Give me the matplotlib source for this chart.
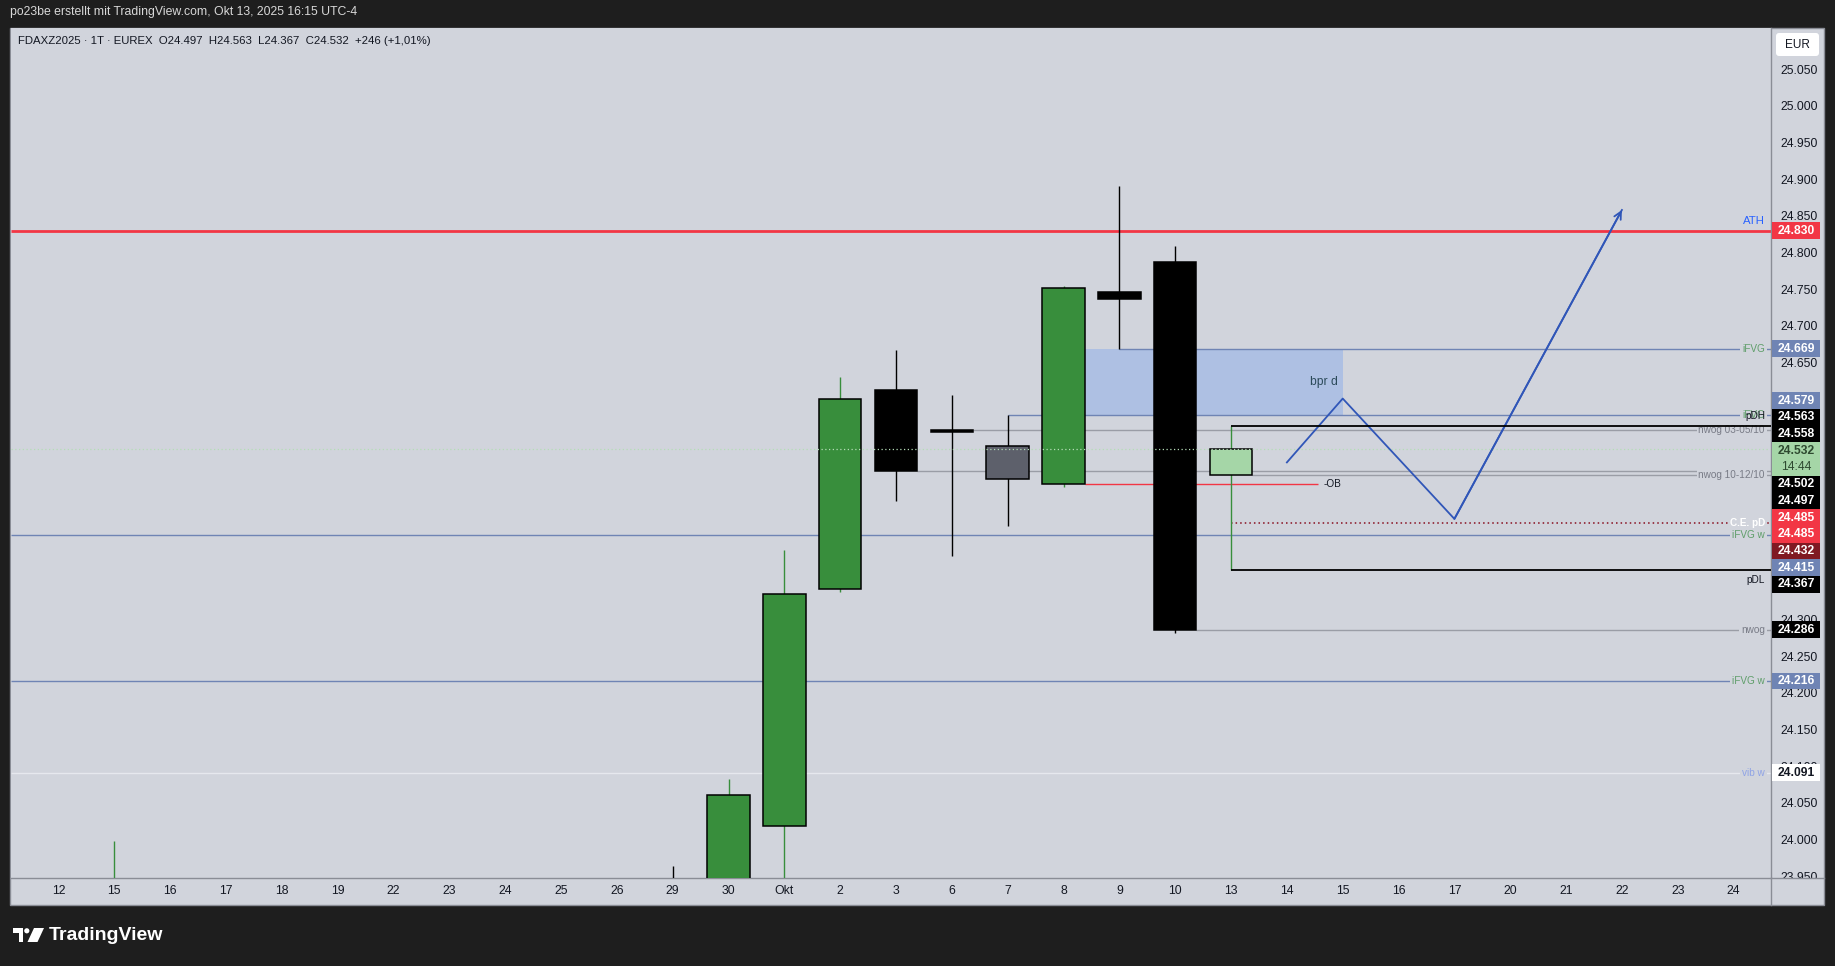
import numpy as np
import matplotlib
matplotlib.use("Agg")
import matplotlib.pyplot as plt
import matplotlib.transforms as mtransforms
from matplotlib.patches import Rectangle, FancyBboxPatch, Polygon, Circle
from matplotlib.lines import Line2D

plt.rcParams["font.family"] = ["Liberation Sans", "DejaVu Sans"]

W, H = 1835, 966
BG = "#d1d4dc"
DARK = "#1e1e1e"
FRAME = "#8a8d96"
BODY_W = 0.76
HALF = BODY_W / 2

# x axis: one slot per trading day, Sep 12 .. Oct 24 2025
day_labels = ["12", "15", "16", "17", "18", "19", "22", "23", "24", "25", "26", "29", "30",
              "Okt", "2", "3", "6", "7", "8", "9", "10", "13", "14", "15", "16", "17",
              "20", "21", "22", "23", "24"]

# daily candles that reach into the visible price range (position = slot on x axis)
candle_pos = [1, 11, 12, 13, 14, 15, 16, 17, 18, 19, 20, 21]
opens  = [23880, 23910, 23800, 24018, 24341, 24613, 24558, 24491, 24484, 24746, 24787, 24497]
highs  = [23998, 23964, 24082, 24395, 24630, 24667, 24606, 24578, 24754, 24891, 24809, 24563]
lows   = [23840, 23760, 23770, 23930, 24338, 24462, 24387, 24427, 24481, 24669, 24282, 24367]
closes = [23930, 23790, 24061, 24334, 24600, 24502, 24555, 24536, 24751, 24737, 24286, 24532]
kinds  = ["up", "down", "up", "up", "up", "down", "down", "gray", "up", "down", "down", "live"]
countdown = "14:44"

# drawn horizontal levels
level_price = [24830, 24669, 24579, 24563, 24558, 24502, 24497, 24485, 24432, 24415, 24367, 24286, 24216, 24091]
level_start = [None, 19, 17, 21, 16 + HALF, 15 + HALF, 21 + HALF, 18 + HALF, 21, None, 21, 20 + HALF, None, None]
level_text  = ["ATH", "iFVG", "iFVG", "pDH", "nwog 03-05/10", "nwog", "nwog 10-12/10", "-OB",
               "C.E. pD", "iFVG w", "pDL", "nwog", "iFVG w", "vib w"]
level_kind  = ["ath", "fvg", "fvg", "black", "gap", "gap", "gap", "ob", "ce", "fvg", "black", "gap", "fvg", "vib"]
ob_end = 22.56

# price tags on the right scale
tag_price = [24830, 24669, 24579, 24563, 24558, 24532, 24502, 24497, 24485, 24485, 24432, 24415,
             24367, 24286, 24216, 24091]
tag_kind  = ["red", "blue", "blue", "black", "black", "live", "black", "black", "red", "red", "dark",
             "blue", "black", "black", "blue", "white"]

# balanced price range box
zone_x = (18 + HALF, 23)
zone_lo, zone_hi = 24579, 24669
zone_label = "bpr d"

# projected path
proj_x = [22, 23, 25, 28]
proj_y = [24514, 24601, 24437, 24858]

candle_style = {
    "up":   ("#388e3c", "#388e3c"),
    "down": ("#000000", "#000000"),
    "gray": ("#5d606b", "#000000"),
    "live": ("#a5d6a7", "#388e3c"),
}
level_style = {  # line colour, lw, ls, text colour, weight, zorder
    "ath":   ("#f23645", 2.0, "-", "#2962ff", "normal", 2),
    "fvg":   ("#6f84b4", 1.0, "-", "#5f9e6a", "normal", 2),
    "black": ("#000000", 1.3, "-", "#131722", "normal", 7.5),
    "gap":   ("#9a9da6", 1.0, "-", "#787b86", "normal", 2),
    "ob":    ("#f23645", 1.0, "-", "#131722", "normal", 2),
    "ce":    ("#880e1f", 1.1, (0, (1, 2)), "#ffffff", "bold", 2),
    "vib":   ("#e6e8ee", 1.0, "-", "#8fa3e6", "normal", 2),
}
tag_style = {
    "red":   ("#f23645", "#ffffff"),
    "blue":  ("#6f84b4", "#ffffff"),
    "black": ("#000000", "#ffffff"),
    "live":  ("#a5d6a7", "#2e4a30"),
    "dark":  ("#801922", "#ffffff"),
    "white": ("#ffffff", "#131722"),
}

ident = mtransforms.IdentityTransform()


def fmt(v):
    return f"{v / 1000:.3f}"


fig = plt.figure(figsize=(W / 100, H / 100), dpi=100, facecolor=DARK)

# chart panel
fig.add_artist(Rectangle((10, H - 905), 1814, 877, facecolor=BG, edgecolor=FRAME,
                         lw=1, transform=ident, zorder=-5))

ax = fig.add_axes([11 / W, 1 - 878 / H, 1760 / W, 850 / H])
ax.set_facecolor(BG)
ax.set_xlim(-0.85, 30.67)
ax.set_ylim(23947.6, 25106)
for s in ["left", "top"]:
    ax.spines[s].set_visible(False)
for s in ["bottom", "right"]:
    ax.spines[s].set_color(FRAME)
    ax.spines[s].set_linewidth(1)

ax.set_xticks(range(len(day_labels)))
ax.set_xticklabels(day_labels)
ax.tick_params(axis="x", length=0, pad=5, labelsize=8.8, labelcolor="#131722")
ax.yaxis.tick_right()
yt = np.arange(23950, 25051, 50)
ax.set_yticks(yt)
ax.set_yticklabels([fmt(v) for v in yt])
ax.tick_params(axis="y", length=0, pad=6.5, labelsize=8.8, labelcolor="#131722")

# zone
ax.add_patch(Rectangle((zone_x[0], zone_lo), zone_x[1] - zone_x[0], zone_hi - zone_lo,
                       facecolor="#aec0e3", edgecolor="none", zorder=1))
ax.text(zone_x[1] - 0.08, (zone_lo + zone_hi) / 2, zone_label, ha="right", va="center",
        fontsize=8.7, color="#2c4a5a", zorder=7)

# levels
ytrans = ax.get_yaxis_transform()
x_lbl = (1765 - 11) / 1760
for p, st, txt, k in zip(level_price, level_start, level_text, level_kind):
    lc, lw, ls, tc, wt, lz = level_style[k]
    x0 = ax.get_xlim()[0] if st is None else st
    x1 = ob_end if k == "ob" else ax.get_xlim()[1]
    ax.hlines(p, x0, x1, colors=lc, lw=lw, linestyles=ls, zorder=lz)
    if k == "ob":
        ax.text(x1 + 0.1, p, txt, ha="left", va="center", fontsize=7.2, color=tc, zorder=7)
        continue
    if k == "black":
        above = txt == "pDH"
        tr = mtransforms.offset_copy(ytrans, fig=fig, y=5 if above else -5, units="dots")
        ax.text(x_lbl, p, txt, transform=tr, ha="right", va="bottom" if above else "top",
                fontsize=7.2, color=tc, zorder=7)
    elif k == "ath":
        tr = mtransforms.offset_copy(ytrans, fig=fig, y=5, units="dots")
        ax.text(x_lbl, p, txt, transform=tr, ha="right", va="bottom", fontsize=8.2,
                color=tc, zorder=7)
    else:
        ax.text(x_lbl, p, txt, transform=ytrans, ha="right", va="center", fontsize=7.2,
                color=tc, fontweight=wt, zorder=7,
                bbox=dict(boxstyle="square,pad=0.2", fc=BG, ec="none"))

# candles
for x, o, h, l, c, k in zip(candle_pos, opens, highs, lows, closes, kinds):
    body, wick = candle_style[k]
    ax.vlines(x, l, h, colors=wick, lw=1, zorder=3)
    ax.add_patch(Rectangle((x - HALF, min(o, c)), BODY_W, max(abs(c - o), 1),
                           facecolor=body, edgecolor="#000000", lw=1.1, zorder=4))

# last price line
ax.axhline(closes[-1], color="#b4dcb6", lw=0.9, ls=(0, (1, 2)), zorder=5)

# projection
proj_c = "#3056b8"
ax.plot(proj_x, proj_y, color=proj_c, lw=1.3, zorder=6)
ax.annotate("", xy=(proj_x[-1], proj_y[-1]), xytext=(proj_x[-2], proj_y[-2]),
            arrowprops=dict(arrowstyle="->", color=proj_c, lw=1.3, mutation_scale=13,
                            shrinkA=0, shrinkB=0), zorder=6)

# price tags, spread apart where they collide
TAG_H = 16.7
tops, heights = [], []
for p, k in zip(tag_price, tag_kind):
    yd = H - ax.transData.transform((0, p))[1]
    tops.append(yd - TAG_H / 2)
    heights.append(TAG_H * (2 if k == "live" else 1))

order = list(np.argsort(tops, kind="stable"))
groups = [[i] for i in order]


def place(g):
    # stack the group around the middle of the span its members want
    offs = np.concatenate([[0], np.cumsum([heights[i] for i in g[:-1]])])
    total = sum(heights[i] for i in g)
    lo = tops[g[0]]
    hi = tops[g[-1]] + TAG_H
    return (lo + hi) / 2 - total / 2, offs


merged = True
while merged:
    merged = False
    for j in range(len(groups) - 1):
        t1, _ = place(groups[j])
        b1 = t1 + sum(heights[i] for i in groups[j])
        t2, _ = place(groups[j + 1])
        if b1 > t2 + 0.01:
            groups[j] = groups[j] + groups[j + 1]
            del groups[j + 1]
            merged = True
            break

for g in groups:
    t0, offs = place(g)
    for i, o in zip(g, offs):
        t = t0 + o
        fc, tc = tag_style[tag_kind[i]]
        fig.add_artist(Rectangle((1772, H - t - heights[i]), 48, heights[i], facecolor=fc,
                                 edgecolor="none", transform=ident, zorder=3))
        fig.text(1796, H - t - TAG_H / 2, fmt(tag_price[i]), ha="center", va="center",
                 fontsize=8.7, fontweight="bold", color=tc, transform=ident, zorder=4)
        if tag_kind[i] == "live":
            fig.text(1796, H - t - TAG_H * 1.5, countdown, ha="center", va="center",
                     fontsize=8.7, color=tc, transform=ident, zorder=4)

# clip the scale below the plot and close the frame
fig.add_artist(Rectangle((1772, H - 904), 51, 26, facecolor=BG, edgecolor="none",
                         transform=ident, zorder=2))
fig.add_artist(Line2D([1771, 1771], [H - 878, H - 905], color=FRAME, lw=1, transform=ident, zorder=5))
fig.add_artist(Line2D([1771, 1824], [H - 878, H - 878], color=FRAME, lw=1, transform=ident, zorder=5))

# currency box
fig.add_artist(FancyBboxPatch((1776, H - 56), 43, 23, boxstyle="round,pad=0,rounding_size=3",
                              facecolor="#ffffff", edgecolor="none", transform=ident, zorder=3))
fig.text(1797.5, H - 44.5, "EUR", ha="center", va="center", fontsize=8.5, color="#131722",
         transform=ident, zorder=4)

# header lines
fig.text(10, H - 12, "po23be erstellt mit TradingView.com, Okt 13, 2025 16:15 UTC-4",
         fontsize=8.8, color="#d8d8d8", va="center", transform=ident)
chg = closes[-1] - closes[-2]
pct = f"{chg / closes[-2] * 100:+.2f}".replace(".", ",")
sym = (f"FDAXZ2025 · 1T · EUREX  O{fmt(opens[-1])}  H{fmt(highs[-1])}  L{fmt(lows[-1])}  "
       f"C{fmt(closes[-1])}  {chg:+d} ({pct}%)")
fig.text(18, H - 41, sym, fontsize=8.2, color="#131722", va="center", transform=ident)

# TradingView logo
fig.add_artist(Polygon([(13, H - 928), (23, H - 928), (23, H - 942), (18.5, H - 942),
                        (18.5, H - 933), (13, H - 933)], closed=True, facecolor="#ffffff",
                       edgecolor="none", transform=ident))
fig.add_artist(Circle((26.8, H - 930.8), 2.6, facecolor="#ffffff", edgecolor="none", transform=ident))
fig.add_artist(Polygon([(34, H - 928), (44, H - 928), (37.5, H - 942), (27.5, H - 942)], closed=True,
                       facecolor="#ffffff", edgecolor="none", transform=ident))
fig.text(49, H - 935.5, "TradingView", fontsize=14, fontweight="bold", color="#ffffff",
         va="center", transform=ident)

fig.savefig("out.png", dpi=100, facecolor=DARK)
